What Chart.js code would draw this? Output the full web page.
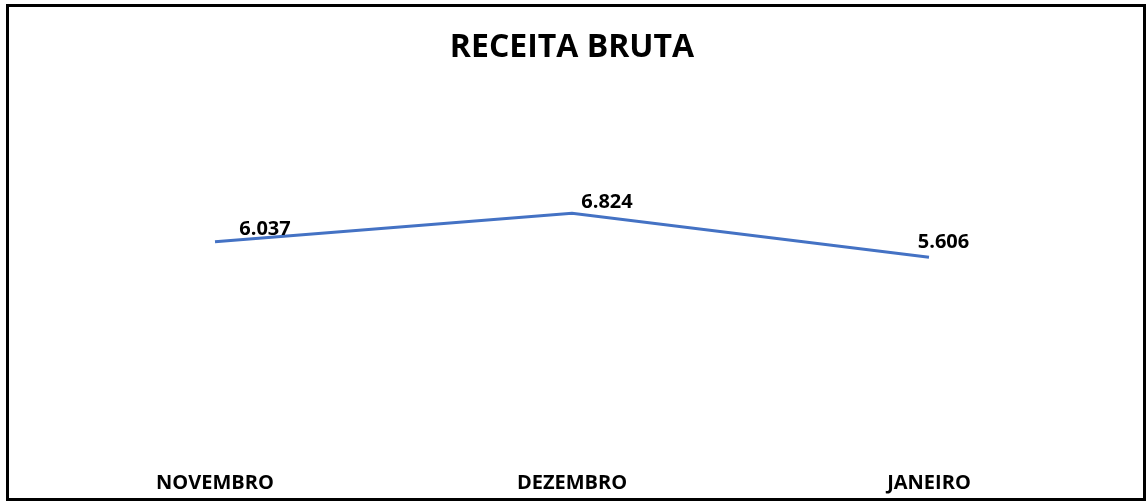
<!DOCTYPE html>
<html>
<head>
<meta charset="utf-8">
<script src="https://cdn.jsdelivr.net/npm/chart.js@4/dist/chart.umd.min.js"></script>
<style>
  html, body { margin: 0; padding: 0; background: #fff; }
  #wrap { width: 1147px; height: 502px; position: relative; }
</style>
</head>
<body>
<div id="wrap"><canvas id="c" width="1147" height="502"></canvas></div>
<script>
const categories = ["NOVEMBRO", "DEZEMBRO", "JANEIRO"];
const receitaBruta = [6.037, 6.824, 5.606];
const valueLabels = ["6.037", "6.824", "5.606"];
const chartTitle = "RECEITA BRUTA";

const FONT = "'Open Sans', 'Liberation Sans', sans-serif";

const labelPlugin = {
  id: 'valueLabels',
  afterDatasetsDraw(chart, args, opts) {
    const ctx = chart.ctx;
    const meta = chart.getDatasetMeta(0);
    ctx.save();
    ctx.font = 'bold 20px ' + FONT;
    ctx.fillStyle = '#000';
    ctx.textAlign = 'center';
    ctx.textBaseline = 'middle';
    meta.data.forEach((pt, i) => {
      const off = opts.offsets[i] || [0, -12];
      ctx.fillText(valueLabels[i], pt.x + off[0], pt.y + off[1]);
    });
    ctx.restore();
  }
};

const framePlugin = {
  id: 'frame',
  afterDraw(chart) {
    const ctx = chart.ctx;
    ctx.save();
    ctx.strokeStyle = '#000';
    ctx.lineWidth = 3;
    ctx.strokeRect(7.5, 5.5, 1137, 494);
    ctx.restore();
  }
};

new Chart(document.getElementById('c'), {
  type: 'line',
  data: {
    labels: categories,
    datasets: [{
      data: receitaBruta,
      borderColor: '#4472C4',
      borderWidth: 3,
      pointRadius: 0,
      fill: false,
      tension: 0
    }]
  },
  options: {
    responsive: false,
    animation: false,
    layout: { padding: { left: 36.5, right: 39.5, top: 0, bottom: 8 } },
    plugins: {
      legend: { display: false },
      tooltip: { enabled: false },
      title: {
        display: true,
        text: chartTitle,
        color: '#000',
        font: { family: FONT, size: 32, weight: 'bold' },
        padding: { top: 29, bottom: 103.6 }
      },
      valueLabels: { offsets: [[50, -12], [35, -11], [14.5, -14.5]] }
    },
    scales: {
      x: {
        offset: true,
        grid: { display: false, drawTicks: false },
        border: { display: false },
        afterFit(scale) { scale.height = 35; },
        ticks: {
          color: '#000',
          padding: 12,
          maxRotation: 0,
          font: { family: FONT, size: 20, weight: 'bold' }
        }
      },
      y: {
        display: false,
        min: 0,
        max: 8
      }
    }
  },
  plugins: [labelPlugin, framePlugin]
});
</script>
</body>
</html>
